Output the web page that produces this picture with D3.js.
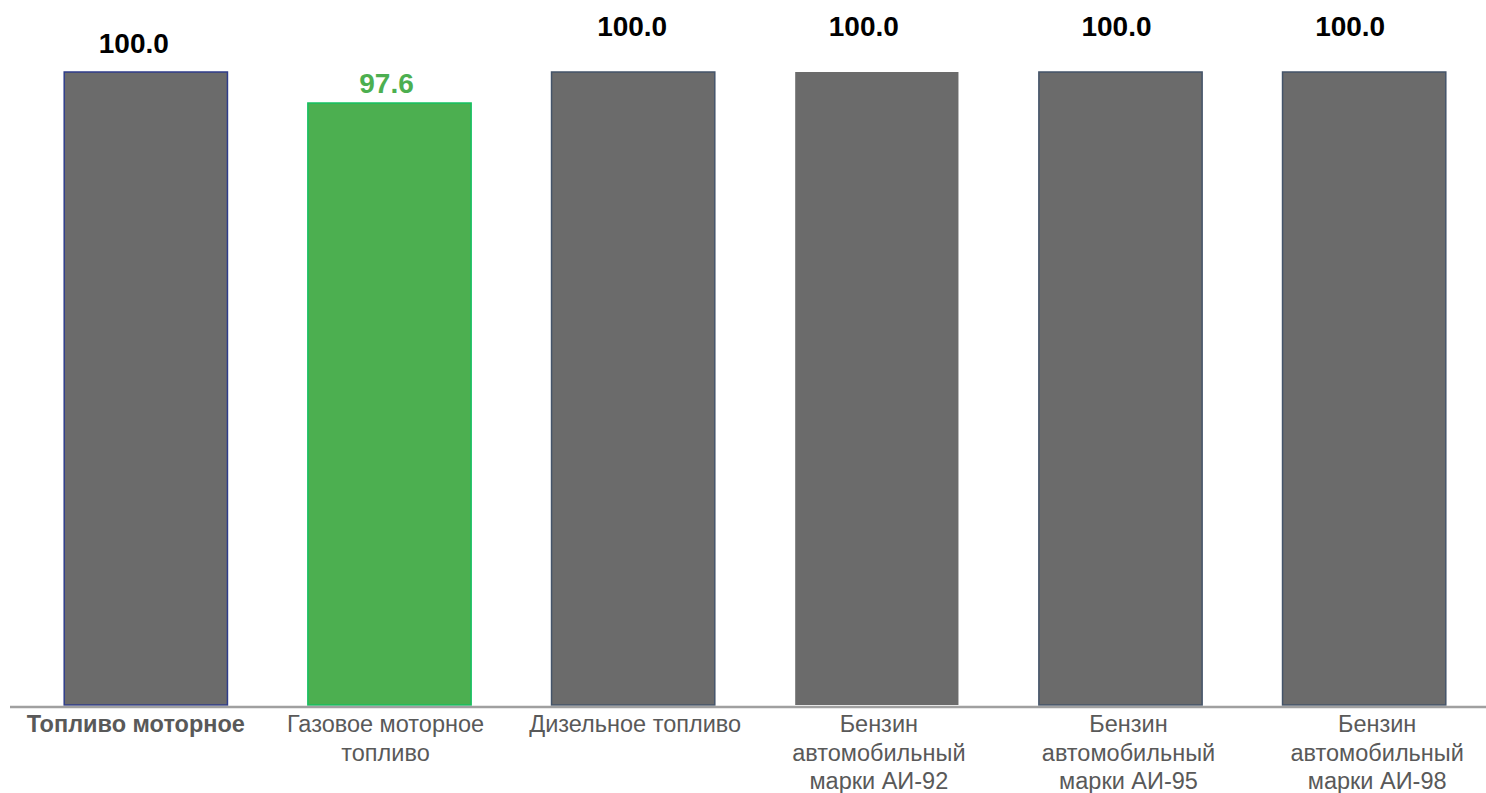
<!DOCTYPE html>
<html>
<head>
<meta charset="utf-8">
<script src="https://cdn.jsdelivr.net/npm/d3@7"></script>
<style>
  html, body { margin: 0; padding: 0; background: #fff; }
  svg { display: block; font-family: "Liberation Sans", Arial, sans-serif; }
</style>
</head>
<body>
<div id="chart"></div>
<script>
// data
var categories = [
  ["Топливо моторное"],
  ["Газовое моторное", "топливо"],
  ["Дизельное топливо"],
  ["Бензин", "автомобильный", "марки АИ-92"],
  ["Бензин", "автомобильный", "марки АИ-95"],
  ["Бензин", "автомобильный", "марки АИ-98"]
];
var values = [100.0, 97.6, 100.0, 100.0, 100.0, 100.0];
var highlight = [false, true, false, false, false, false];
var totalRow = [true, false, false, false, false, false];

// styles
var grayFill = "#6b6b6b";
var greenFill = "#4caf50";
var strokes = ["#2f3d8a", "#14c060", "#44546a", "none", "#44546a", "#44546a"];
var labelLift = [19, 10, 36, 36, 36, 36];
var labelShift = [-12, -3, -1, -13, -4, -14];
var catShift = [-10, -4, 2, 2, 8, 13];

var width = 1486, height = 793;
var baseY = 705, topY = 72;

var svg = d3.select("#chart").append("svg")
  .attr("width", width)
  .attr("height", height);

var x = d3.scaleBand()
  .domain(d3.range(values.length))
  .range([24, 1486])
  .paddingInner(0.33)
  .paddingOuter(0.165);

var y = d3.scaleLinear()
  .domain([51, 100])
  .range([baseY, topY]);

// bars
svg.selectAll("rect.bar")
  .data(values)
  .enter()
  .append("rect")
  .attr("class", "bar")
  .attr("x", function(d, i) { return x(i); })
  .attr("y", function(d) { return y(d); })
  .attr("width", x.bandwidth())
  .attr("height", function(d) { return baseY - y(d); })
  .attr("fill", function(d, i) { return highlight[i] ? greenFill : grayFill; })
  .attr("stroke", function(d, i) { return strokes[i]; })
  .attr("stroke-width", 1.5);

// axis line
svg.append("line")
  .attr("x1", 10).attr("x2", width)
  .attr("y1", baseY + 2).attr("y2", baseY + 2)
  .attr("stroke", "#a0a0a0")
  .attr("stroke-width", 2.5);

// value labels
svg.selectAll("text.val")
  .data(values)
  .enter()
  .append("text")
  .attr("class", "val")
  .attr("x", function(d, i) { return x(i) + x.bandwidth() / 2 + labelShift[i]; })
  .attr("y", function(d, i) { return y(d) - labelLift[i]; })
  .attr("text-anchor", "middle")
  .attr("font-size", 28)
  .attr("font-weight", "bold")
  .attr("fill", function(d, i) { return highlight[i] ? greenFill : "#000"; })
  .text(function(d) { return d.toFixed(1); });

// category labels
var cat = svg.selectAll("text.cat")
  .data(categories)
  .enter()
  .append("text")
  .attr("class", "cat")
  .attr("text-anchor", "middle")
  .attr("font-size", 23.5)
  .attr("font-weight", function(d, i) { return totalRow[i] ? "bold" : "normal"; })
  .attr("fill", "#595959");

cat.selectAll("tspan")
  .data(function(d, i) { return d.map(function(s) { return {s: s, i: i}; }); })
  .enter()
  .append("tspan")
  .attr("x", function(d) { return x(d.i) + x.bandwidth() / 2 + catShift[d.i]; })
  .attr("y", function(d, j) { return 732 + j * 28.5; })
  .text(function(d) { return d.s; });
</script>
</body>
</html>
